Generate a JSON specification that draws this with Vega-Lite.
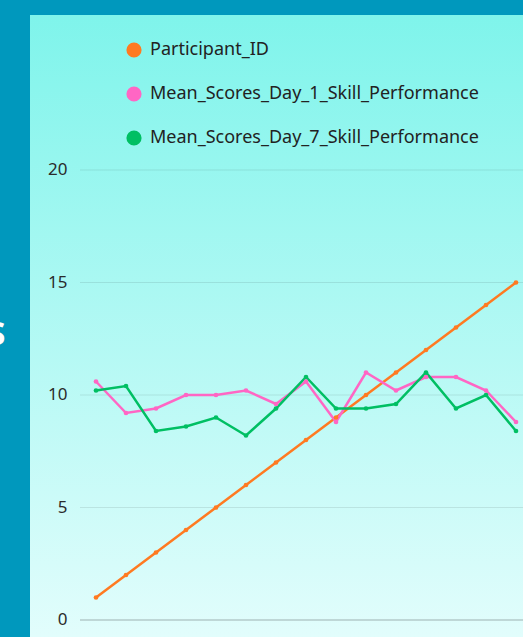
{
  "$schema": "https://vega.github.io/schema/vega-lite/v6.json",
  "autosize": {"type": "none"},
  "width": 493,
  "height": 622,
  "padding": {"left": 30, "top": 15, "right": 0, "bottom": 0},
  "background": "#0098BD",
  "config": {
    "view": {
      "stroke": null,
      "fill": {"gradient": "linear", "x1": 0, "y1": 0, "x2": 0, "y2": 1,
        "stops": [{"offset": 0, "color": "#7FF4EB"}, {"offset": 1, "color": "#E2FDFC"}]}
    },
    "font": "Noto Sans"
  },
  "datasets": {
    "grid": [{"g": 5, "x0": 0.4667, "x1": 15.2333}, {"g": 10, "x0": 0.4667, "x1": 15.2333}, {"g": 15, "x0": 0.4667, "x1": 15.2333}, {"g": 20, "x0": 0.4667, "x1": 15.2333}],
    "base": [{"g": 0, "x0": 0.4667, "x1": 15.2333}]
  },
  "layer": [
    {
      "data": {"name": "grid"},
      "mark": {"type": "rule", "strokeWidth": 1.2, "color": "#000000", "opacity": 0.09},
      "encoding": {
        "y": {"field": "g", "type": "quantitative"},
        "x": {"field": "x0", "type": "quantitative", "axis": null},
        "x2": {"field": "x1"}
      }
    },
    {
      "data": {"name": "base"},
      "mark": {"type": "rule", "strokeWidth": 1.2, "color": "#9EB1B1"},
      "encoding": {
        "y": {"field": "g", "type": "quantitative"},
        "x": {"field": "x0", "type": "quantitative", "axis": null},
        "x2": {"field": "x1"}
      }
    },
    {
      "data": {
        "values": [
          {"id": 1, "series": "Participant_ID", "value": 1},
          {"id": 2, "series": "Participant_ID", "value": 2},
          {"id": 3, "series": "Participant_ID", "value": 3},
          {"id": 4, "series": "Participant_ID", "value": 4},
          {"id": 5, "series": "Participant_ID", "value": 5},
          {"id": 6, "series": "Participant_ID", "value": 6},
          {"id": 7, "series": "Participant_ID", "value": 7},
          {"id": 8, "series": "Participant_ID", "value": 8},
          {"id": 9, "series": "Participant_ID", "value": 9},
          {"id": 10, "series": "Participant_ID", "value": 10},
          {"id": 11, "series": "Participant_ID", "value": 11},
          {"id": 12, "series": "Participant_ID", "value": 12},
          {"id": 13, "series": "Participant_ID", "value": 13},
          {"id": 14, "series": "Participant_ID", "value": 14},
          {"id": 15, "series": "Participant_ID", "value": 15},
          {"id": 1, "series": "Mean_Scores_Day_1_Skill_Performance", "value": 10.6},
          {"id": 2, "series": "Mean_Scores_Day_1_Skill_Performance", "value": 9.2},
          {"id": 3, "series": "Mean_Scores_Day_1_Skill_Performance", "value": 9.4},
          {"id": 4, "series": "Mean_Scores_Day_1_Skill_Performance", "value": 10.0},
          {"id": 5, "series": "Mean_Scores_Day_1_Skill_Performance", "value": 10.0},
          {"id": 6, "series": "Mean_Scores_Day_1_Skill_Performance", "value": 10.2},
          {"id": 7, "series": "Mean_Scores_Day_1_Skill_Performance", "value": 9.6},
          {"id": 8, "series": "Mean_Scores_Day_1_Skill_Performance", "value": 10.6},
          {"id": 9, "series": "Mean_Scores_Day_1_Skill_Performance", "value": 8.8},
          {"id": 10, "series": "Mean_Scores_Day_1_Skill_Performance", "value": 11.0},
          {"id": 11, "series": "Mean_Scores_Day_1_Skill_Performance", "value": 10.2},
          {"id": 12, "series": "Mean_Scores_Day_1_Skill_Performance", "value": 10.8},
          {"id": 13, "series": "Mean_Scores_Day_1_Skill_Performance", "value": 10.8},
          {"id": 14, "series": "Mean_Scores_Day_1_Skill_Performance", "value": 10.2},
          {"id": 15, "series": "Mean_Scores_Day_1_Skill_Performance", "value": 8.8},
          {"id": 1, "series": "Mean_Scores_Day_7_Skill_Performance", "value": 10.2},
          {"id": 2, "series": "Mean_Scores_Day_7_Skill_Performance", "value": 10.4},
          {"id": 3, "series": "Mean_Scores_Day_7_Skill_Performance", "value": 8.4},
          {"id": 4, "series": "Mean_Scores_Day_7_Skill_Performance", "value": 8.6},
          {"id": 5, "series": "Mean_Scores_Day_7_Skill_Performance", "value": 9.0},
          {"id": 6, "series": "Mean_Scores_Day_7_Skill_Performance", "value": 8.2},
          {"id": 7, "series": "Mean_Scores_Day_7_Skill_Performance", "value": 9.4},
          {"id": 8, "series": "Mean_Scores_Day_7_Skill_Performance", "value": 10.8},
          {"id": 9, "series": "Mean_Scores_Day_7_Skill_Performance", "value": 9.4},
          {"id": 10, "series": "Mean_Scores_Day_7_Skill_Performance", "value": 9.4},
          {"id": 11, "series": "Mean_Scores_Day_7_Skill_Performance", "value": 9.6},
          {"id": 12, "series": "Mean_Scores_Day_7_Skill_Performance", "value": 11.0},
          {"id": 13, "series": "Mean_Scores_Day_7_Skill_Performance", "value": 9.4},
          {"id": 14, "series": "Mean_Scores_Day_7_Skill_Performance", "value": 10.0},
          {"id": 15, "series": "Mean_Scores_Day_7_Skill_Performance", "value": 8.4}
        ]
      },
      "mark": {"type": "line", "strokeWidth": 2.5, "point": {"filled": true, "size": 22}},
      "encoding": {
        "x": {"field": "id", "type": "quantitative",
          "scale": {"domain": [-1.2, 15.2333], "nice": false, "zero": false},
          "axis": null},
        "y": {"field": "value", "type": "quantitative",
          "scale": {"domain": [-0.756, 26.889], "nice": false, "zero": false},
          "axis": {
            "values": [0, 5, 10, 15, 20],
            "offset": -50,
            "grid": false,
            "domain": false,
            "ticks": false,
            "labelPadding": 13,
            "labelFontSize": 17,
            "labelColor": "#2b2b2b",
            "title": "MEAN SCORES",
            "titleAngle": 0,
            "titleAlign": "right",
            "titleBaseline": "middle",
            "titleX": -75,
            "titleY": 319,
            "titleColor": "#ffffff",
            "titleFontSize": 32,
            "titleFontWeight": "bold"
          }},
        "color": {"field": "series", "type": "nominal",
          "scale": {
            "domain": ["Participant_ID", "Mean_Scores_Day_1_Skill_Performance", "Mean_Scores_Day_7_Skill_Performance"],
            "range": ["#FF7A21", "#FF66C4", "#00BF63"]},
          "legend": {
            "orient": "none",
            "legendX": 95,
            "legendY": 26,
            "title": null,
            "symbolType": "circle",
            "symbolSize": 230,
            "symbolStrokeWidth": 0,
            "symbolOpacity": 1,
            "labelFontSize": 18,
            "labelColor": "#222222",
            "labelOffset": 7,
            "rowPadding": 26,
            "labelLimit": 400
          }},
        "order": {"field": "id"}
      }
    }
  ]
}
